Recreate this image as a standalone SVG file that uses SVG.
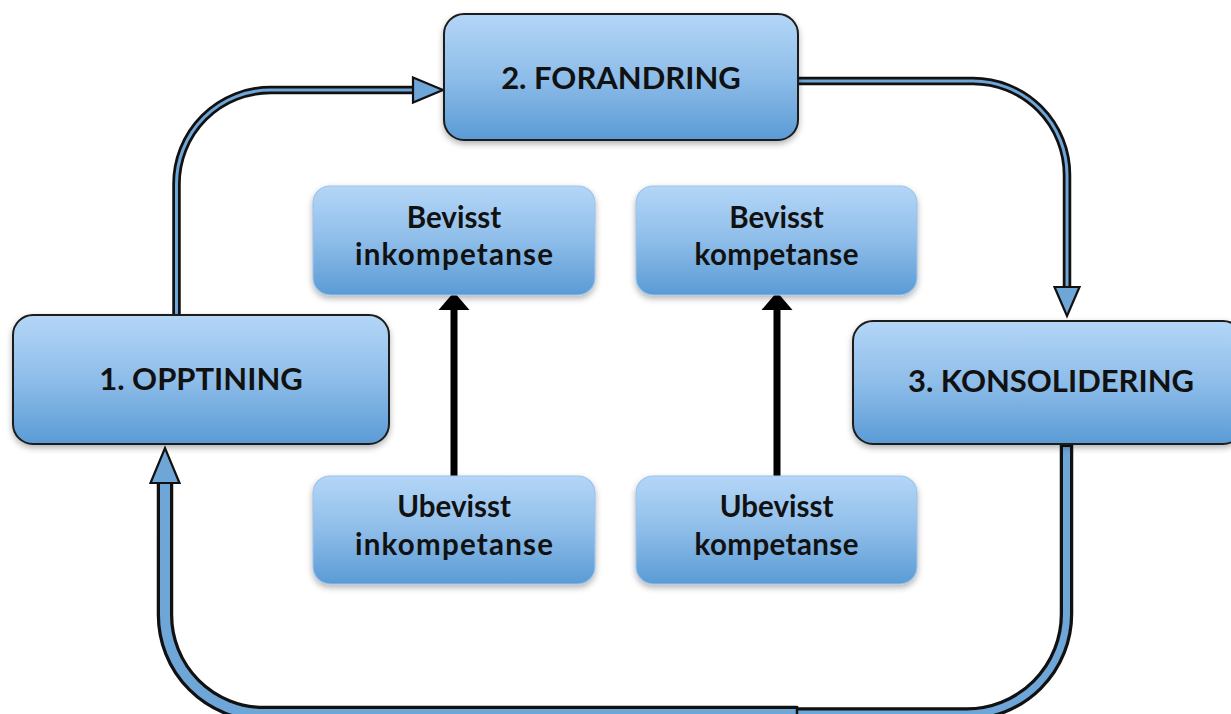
<svg xmlns="http://www.w3.org/2000/svg" width="1231" height="714" viewBox="0 0 1231 714">
  <style>
    .stage rect { fill: url(#boxFill); stroke: #1c1c1c; stroke-width: 2; filter: url(#shadow); }
    .level rect { fill: url(#boxFill); stroke: #9dc4ea; stroke-width: 1.2; filter: url(#shadow); }
    text { font-family: Lato, "Liberation Sans", sans-serif; font-weight: 700; fill: #111; text-anchor: middle; }
    .stage text { font-size: 31px; }
    .level text { font-size: 29.5px; }
    .rim { fill: none; stroke: #111; stroke-linejoin: round; }
    .core { fill: none; stroke: #6fa6d8; stroke-linejoin: round; }
    .head { fill: #6fa6d8; stroke: #111; stroke-width: 2.2; stroke-linejoin: miter; }
    .up { stroke: #000; stroke-width: 7; fill: none; }
  </style>
  <defs>
    <linearGradient id="boxFill" x1="0" y1="0" x2="0" y2="1">
      <stop offset="0" stop-color="#b4d6f7"/>
      <stop offset="0.5" stop-color="#8ebde9"/>
      <stop offset="1" stop-color="#5a9bd5"/>
    </linearGradient>
    <filter id="shadow" x="-10%" y="-10%" width="120%" height="130%">
      <feDropShadow dx="0" dy="3" stdDeviation="3" flood-color="#000" flood-opacity="0.3"/>
    </filter>
  </defs>

  <!-- cycle connectors -->
  <g id="connectors">
    <!-- 1 -> 2 -->
    <path class="rim" stroke-width="8.5" d="M176.5,316 V184 A94,94 0 0 1 270.5,90 H416"/>
    <path class="core" stroke-width="3" d="M176.5,314 V184 A94,94 0 0 1 270.5,90 H416"/>
    <polygon class="head" points="413,77.5 443,90 413,102.5"/>
    <!-- 2 -> 3 -->
    <path class="rim" stroke-width="8.5" d="M797,81 H973 A94,94 0 0 1 1067,175 V289"/>
    <path class="core" stroke-width="3" d="M799,81 H973 A94,94 0 0 1 1067,175 V289"/>
    <polygon class="head" points="1054.5,287 1079.5,287 1067,316"/>
    <!-- 3 -> 1, right half -->
    <path class="rim" stroke-width="13.5" d="M1066.5,441 V614 A100,100 0 0 1 966.5,714 H797"/>
    <path class="core" stroke-width="7" d="M1066.5,447 V614 A100,100 0 0 1 966.5,714 H797"/>
    <!-- 3 -> 1, left half -->
    <path class="rim" stroke-width="16.5" d="M797,714 H264 A99,99 0 0 1 165,615 V481"/>
    <path class="core" stroke-width="10" d="M797,714 H264 A99,99 0 0 1 165,615 V481"/>
    <line x1="797" y1="706" x2="797" y2="714" stroke="#111" stroke-width="2.5"/>
    <polygon class="head" points="150.5,483 165,448 179.5,483"/>
    <!-- level arrows -->
    <line class="up" x1="454" y1="477" x2="454" y2="308"/>
    <polygon points="438.5,310 454,292 469.5,310" fill="#000"/>
    <line class="up" x1="777" y1="477" x2="777" y2="308"/>
    <polygon points="761.5,310 777,292 792.5,310" fill="#000"/>
  </g>

  <g id="stage-opptining" class="stage">
    <rect x="13" y="315" width="376" height="129" rx="20"/>
    <text x="201" y="390">1. OPPTINING</text>
  </g>
  <g id="stage-forandring" class="stage">
    <rect x="444" y="14" width="354" height="126" rx="20"/>
    <text x="621" y="89">2. FORANDRING</text>
  </g>
  <g id="stage-konsolidering" class="stage">
    <rect x="853" y="321" width="390" height="123" rx="20"/>
    <text x="1051" y="392">3. KONSOLIDERING</text>
  </g>

  <g id="bevisst-inkompetanse" class="level">
    <rect x="313" y="186" width="282" height="109" rx="17"/>
    <text x="454" y="228">Bevisst</text>
    <text x="454" y="265" textLength="198" lengthAdjust="spacing">inkompetanse</text>
  </g>
  <g id="bevisst-kompetanse" class="level">
    <rect x="636" y="186" width="281" height="109" rx="17"/>
    <text x="776.5" y="228">Bevisst</text>
    <text x="776.5" y="265" textLength="164" lengthAdjust="spacing">kompetanse</text>
  </g>
  <g id="ubevisst-inkompetanse" class="level">
    <rect x="313" y="476" width="282" height="108" rx="17"/>
    <text x="454" y="517">Ubevisst</text>
    <text x="454" y="555" textLength="198" lengthAdjust="spacing">inkompetanse</text>
  </g>
  <g id="ubevisst-kompetanse" class="level">
    <rect x="636" y="476" width="281" height="108" rx="17"/>
    <text x="776.5" y="517">Ubevisst</text>
    <text x="776.5" y="555" textLength="164" lengthAdjust="spacing">kompetanse</text>
  </g>
</svg>
